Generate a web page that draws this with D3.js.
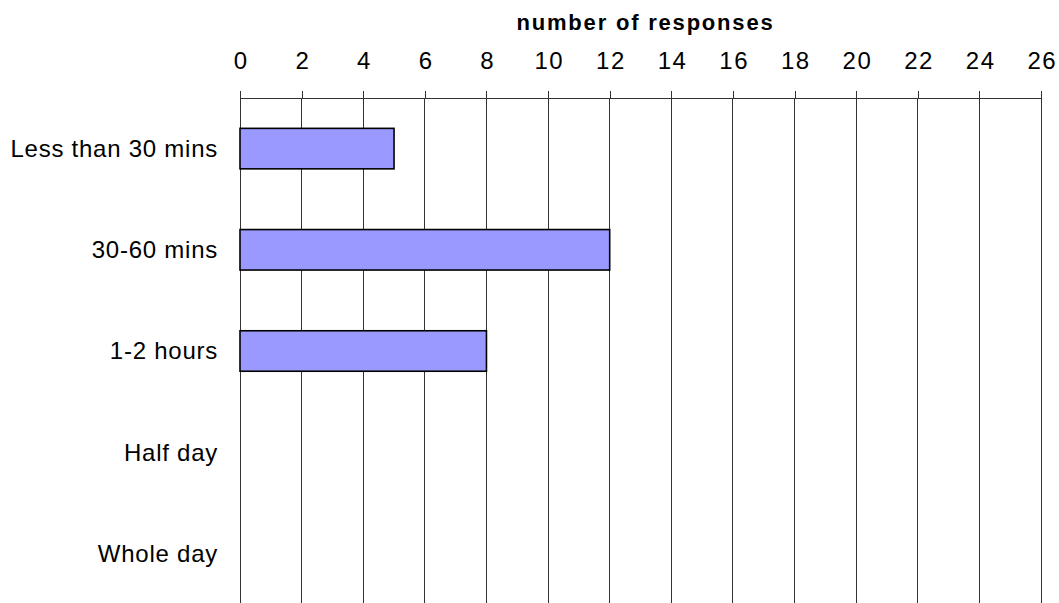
<!DOCTYPE html>
<html>
<head>
<meta charset="utf-8">
<script src="https://cdn.jsdelivr.net/npm/d3@7"></script>
<style>
  html, body { margin: 0; padding: 0; background: #fff; }
  svg { display: block; font-family: "Liberation Sans", Arial, sans-serif; }
</style>
</head>
<body>
<svg id="chart" width="1059" height="603"></svg>
<script>
// Time spent per task: count of responses
const categories = ["Less than 30 mins", "30-60 mins", "1-2 hours", "Half day", "Whole day"];
const responses = [5, 12, 8, 0, 0];
const tickValues = [0, 2, 4, 6, 8, 10, 12, 14, 16, 18, 20, 22, 24, 26];
const axisTitle = "number of responses";

const svg = d3.select("#chart");
const margin = { left: 240, right: 18, top: 98 };
const plotBottom = 604;
const width = 1059;

const x = d3.scaleLinear()
  .domain([0, 26])
  .range([margin.left, width - margin.right]);

const y = d3.scaleBand()
  .domain(categories)
  .range([margin.top, plotBottom])
  .paddingInner(0.6)
  .paddingOuter(0.3);

// vertical gridlines
svg.append("g")
  .selectAll("line")
  .data(tickValues)
  .join("line")
  .attr("x1", d => x(d)).attr("x2", d => x(d))
  .attr("y1", margin.top).attr("y2", plotBottom)
  .attr("stroke", "#333")
  .attr("stroke-width", 1)
  .attr("shape-rendering", "crispEdges");

// top value axis
const xAxis = d3.axisTop(x)
  .tickValues(tickValues)
  .tickSize(7)
  .tickPadding(22)
  .tickFormat(d3.format("d"));

const gx = svg.append("g")
  .attr("transform", `translate(0,${margin.top})`)
  .call(xAxis);
gx.select(".domain").attr("stroke", "#333").attr("shape-rendering", "crispEdges");
gx.selectAll(".tick line").attr("stroke", "#333").attr("shape-rendering", "crispEdges");
gx.selectAll(".tick text")
  .attr("font-size", 24)
  .attr("letter-spacing", 1.5)
  .attr("dx", 0.75)
  .attr("font-family", "Liberation Sans, Arial, sans-serif")
  .attr("fill", "#000");

// axis title
svg.append("text")
  .attr("x", (x(0) + x(26)) / 2 + 5)
  .attr("y", 30)
  .attr("text-anchor", "middle")
  .attr("font-size", 22)
  .attr("font-weight", "bold")
  .attr("letter-spacing", 1.8)
  .text(axisTitle);

// category labels
svg.append("g")
  .selectAll("text")
  .data(categories)
  .join("text")
  .attr("x", margin.left - 22)
  .attr("y", d => y(d) + y.bandwidth() / 2)
  .attr("dy", "0.35em")
  .attr("text-anchor", "end")
  .attr("font-size", 24)
  .attr("letter-spacing", 0.75)
  .text(d => d);

// bars
svg.append("g")
  .selectAll("rect")
  .data(categories.map((c, i) => ({ c, v: responses[i] })).filter(d => d.v > 0))
  .join("rect")
  .attr("x", x(0))
  .attr("y", d => y(d.c))
  .attr("width", d => x(d.v) - x(0))
  .attr("height", y.bandwidth())
  .attr("fill", "#9999ff")
  .attr("stroke", "#000")
  .attr("stroke-width", 1.6);
</script>
</body>
</html>
